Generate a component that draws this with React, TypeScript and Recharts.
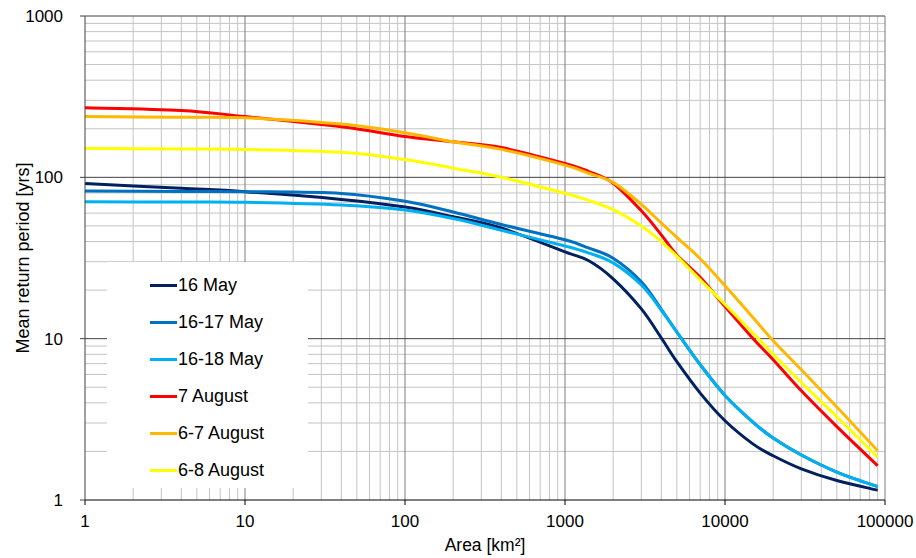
import React from 'react';
import { LineChart, Line, XAxis, YAxis, ReferenceLine, Legend } from 'recharts';

const AREA = [1, 4, 10, 40, 100, 200, 400, 1000, 1400, 2000, 3000, 4000, 5000, 7000, 10000, 15000, 20000, 30000, 50000, 90000];
const MAY16 = [91.5, 85.5, 81.5, 73, 65.5, 57, 48.5, 34.5, 30.5, 23.5, 15.3, 10.1, 7.2, 4.6, 3.1, 2.22, 1.88, 1.56, 1.32, 1.15];
const MAY16_17 = [82.3, 81.8, 81.5, 79.5, 71, 61, 51, 41, 36.5, 31.5, 22.5, 15.2, 11.0, 6.9, 4.45, 3.03, 2.42, 1.9, 1.49, 1.21];
const MAY16_18 = [70.6, 70.3, 70, 67.4, 62.8, 55.5, 47, 37.5, 34, 29.5, 21.5, 15.0, 11.0, 6.9, 4.45, 3.03, 2.42, 1.9, 1.49, 1.21];
const AUG7 = [270, 260, 238, 206, 179, 166, 153, 122, 109, 92, 62, 44, 33, 24, 15.8, 10, 7.4, 4.75, 2.85, 1.63];
const AUG6_7 = [238, 236, 234, 214, 189, 166, 149, 119, 106, 93, 68, 52, 42.5, 31.3, 21.3, 13.5, 9.7, 6.42, 3.77, 2.02];
const AUG6_8 = [151, 150, 149, 143, 129, 114, 100, 79.6, 72, 63, 50, 40, 32.5, 23.2, 16.3, 10.8, 8.0, 5.35, 3.28, 1.84];

const SERIES = [
  { key: 'may16', name: '16 May', values: MAY16, color: '#002060' },
  { key: 'may1617', name: '16-17 May', values: MAY16_17, color: '#0070C0' },
  { key: 'may1618', name: '16-18 May', values: MAY16_18, color: '#00B0F0' },
  { key: 'aug7', name: '7 August', values: AUG7, color: '#FF0000' },
  { key: 'aug67', name: '6-7 August', values: AUG6_7, color: '#FFB800' },
  { key: 'aug68', name: '6-8 August', values: AUG6_8, color: '#FFFF00' },
];

const X_TICKS = [1, 10, 100, 1000, 10000, 100000];
const Y_TICKS = [1, 10, 100, 1000];
const MINOR_STEPS = [2, 3, 4, 5, 6, 7, 8, 9];

const data = AREA.map((a, i) => {
  const row: Record<string, number> = { area: a };
  SERIES.forEach((s) => { row[s.key] = s.values[i]; });
  return row;
});

const xMinor = X_TICKS.slice(0, -1).flatMap((d) => MINOR_STEPS.map((k) => d * k));
const yMinor = Y_TICKS.slice(0, -1).flatMap((d) => MINOR_STEPS.map((k) => d * k));
const xMajor = X_TICKS.slice(1);
const yMajor = Y_TICKS.slice(1);

const FONT = '"Liberation Sans", Arial, sans-serif';

// Catmull-Rom style smoothing (similar to spreadsheet "smoothed line")
const smoothCurve: any = (context: any) => {
  let pts: number[][] = [];
  return {
    areaStart() {},
    areaEnd() {},
    lineStart() { pts = []; },
    lineEnd() {
      const n = pts.length;
      if (n === 0) return;
      context.moveTo(pts[0][0], pts[0][1]);
      const t = 1 / 6;
      for (let i = 0; i < n - 1; i++) {
        const p0 = pts[Math.max(0, i - 1)];
        const p1 = pts[i];
        const p2 = pts[i + 1];
        const p3 = pts[Math.min(n - 1, i + 2)];
        context.bezierCurveTo(
          p1[0] + (p2[0] - p0[0]) * t,
          p1[1] + (p2[1] - p0[1]) * t,
          p2[0] - (p3[0] - p1[0]) * t,
          p2[1] - (p3[1] - p1[1]) * t,
          p2[0],
          p2[1]
        );
      }
    },
    point(x: number, y: number) { pts.push([+x, +y]); },
  };
};

const renderLegend = () => (
  <div style={{ background: '#fff', width: 201, height: 226, position: 'relative', fontFamily: FONT, fontSize: 18, color: '#000' }}>
    {SERIES.map((s, i) => (
      <div key={s.key} style={{ position: 'absolute', left: 43, top: 23 + 37 * i - 11, height: 22, display: 'flex', alignItems: 'center', whiteSpace: 'nowrap' }}>
        <span style={{ display: 'inline-block', width: 27, height: 3, background: s.color, marginRight: 1 }} />
        <span>{s.name}</span>
      </div>
    ))}
  </div>
);

const XLabel = () => (
  <text x={485} y={551} textAnchor="middle" fontFamily={FONT} fontSize={17.5} fill="#000">Area [km²]</text>
);
const YLabel = () => (
  <text x={29} y={258} textAnchor="middle" fontFamily={FONT} fontSize={18} fill="#000" transform="rotate(-90 29 258)">Mean return period [yrs]</text>
);

export default function App() {
  return (
    <div style={{ position: 'absolute', left: 0, top: 0, width: 916, height: 558, background: '#fff' }}>
      <LineChart width={916} height={558} data={data} margin={{ top: 16, right: 31, bottom: 0, left: 0 }}>
        <XAxis
          dataKey="area"
          type="number"
          scale="log"
          domain={[1, 100000]}
          ticks={X_TICKS}
          allowDataOverflow
          height={58}
          tickSize={5}
          tickMargin={10}
          stroke="#000"
          tick={{ fill: '#000', fontSize: 17, fontFamily: FONT }}
          label={<XLabel />}
        />
        <YAxis
          type="number"
          scale="log"
          domain={[1, 1000]}
          ticks={Y_TICKS}
          allowDataOverflow
          width={85}
          tickSize={5}
          tickMargin={10}
          stroke="#404040"
          tick={{ fill: '#000', fontSize: 17, fontFamily: FONT, dx: -7 }}
          label={<YLabel />}
        />
        {xMinor.map((v) => (
          <ReferenceLine key={'xm' + v} x={v} stroke="#c4c4c4" strokeWidth={1} />
        ))}
        {yMinor.map((v) => (
          <ReferenceLine key={'ym' + v} y={v} stroke="#c4c4c4" strokeWidth={1} />
        ))}
        {xMajor.map((v) => (
          <ReferenceLine key={'xM' + v} x={v} stroke="#7a7a7a" strokeWidth={1} />
        ))}
        {yMajor.map((v) => (
          <ReferenceLine key={'yM' + v} y={v} stroke="#404040" strokeWidth={1} />
        ))}
        <Legend
          layout="vertical"
          align="center"
          verticalAlign="middle"
          content={renderLegend}
          wrapperStyle={{ position: 'absolute', left: 107, top: 262, width: 201, height: 226 }}
        />
        {SERIES.map((s) => (
          <Line
            key={s.key}
            type={smoothCurve}
            dataKey={s.key}
            name={s.name}
            stroke={s.color}
            strokeWidth={3}
            dot={false}
            activeDot={false}
            isAnimationActive={false}
          />
        ))}
      </LineChart>
    </div>
  );
}
